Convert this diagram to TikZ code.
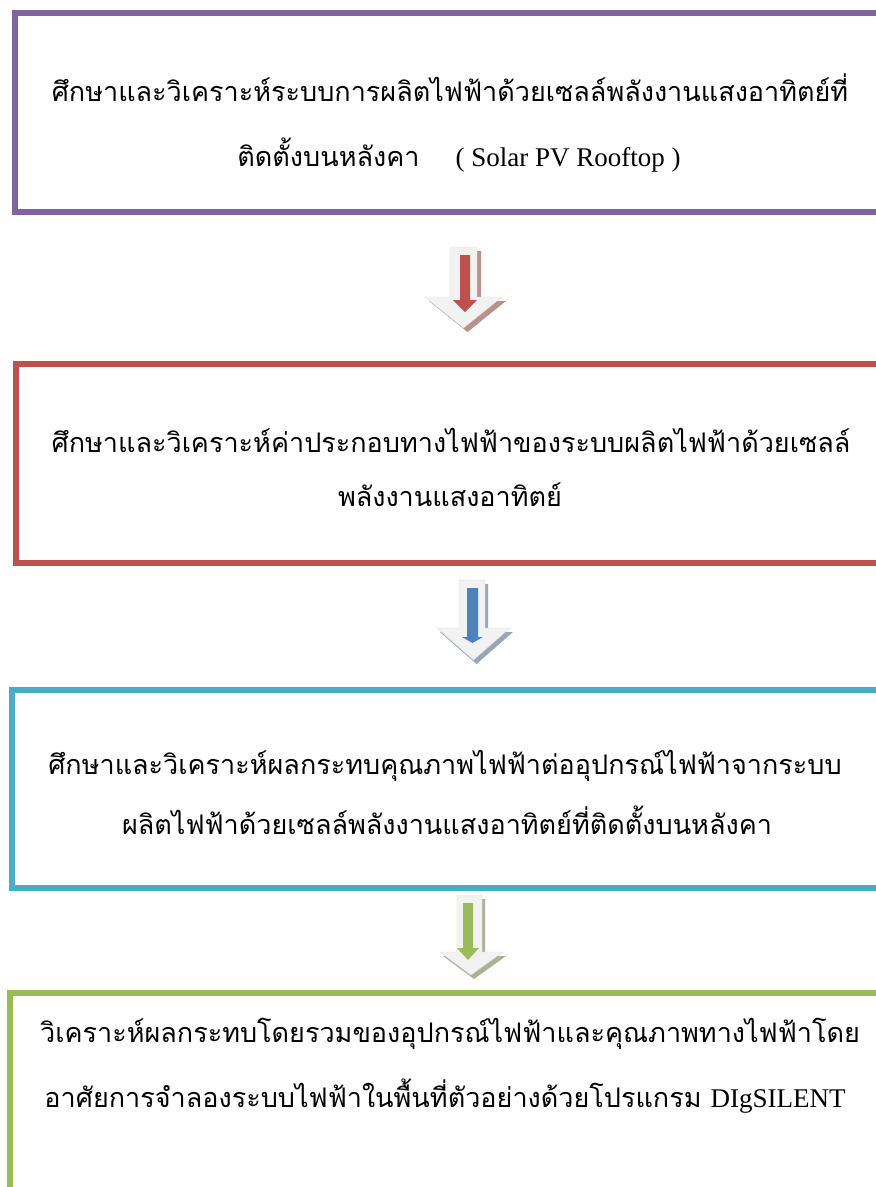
\documentclass[tikz,border=0pt]{standalone}
\usepackage{fontspec}
\newfontfamily\thai[Script=Thai]{Loma}
\newfontfamily\lat{Liberation Serif}
\definecolor{cpurple}{HTML}{8064A2}
\definecolor{cred}{HTML}{C0504D}
\definecolor{cteal}{HTML}{4BACC6}
\definecolor{cgreen}{HTML}{9BBB59}
\definecolor{cblue}{HTML}{4F81BD}
\definecolor{agray}{HTML}{F2F2F2}
\definecolor{shred}{HTML}{B9918F}
\definecolor{shblue}{HTML}{9AA6B5}
\definecolor{shgreen}{HTML}{A9B393}
\tikzset{
  boxframe/.style={draw=#1, line width=6pt, fill=white},
  txt/.style={font=\thai\fontsize{27}{30}\selectfont, inner sep=0pt, anchor=center},
  outerarrow/.style={fill=agray, draw=agray!80!gray, line width=0.4pt},
}
\begin{document}
\begin{tikzpicture}[x=1pt,y=-1pt]
\useasboundingbox (0,0) rectangle (876,1187);
\clip (0,0) rectangle (876,1187);
\fill[white] (0,0) rectangle (876,1187);
% boxes
\node[boxframe=cpurple, minimum width=880pt, minimum height=199pt, inner sep=0pt] (b1) at (455,112) {};
\node[boxframe=cred, minimum width=880pt, minimum height=199pt, inner sep=0pt] (b2) at (455.5,463) {};
\node[boxframe=cteal, minimum width=880pt, minimum height=198.5pt, inner sep=0pt] (b3) at (451.5,788.75) {};
\node[boxframe=cgreen, minimum width=880pt, minimum height=260pt, inner sep=0pt] (b4) at (449.5,1123) {};
% texts
\node[txt] (t1a) at (450,88) {ศึกษาและวิเคราะห์ระบบการผลิตไฟฟ้าด้วยเซลล์พลังงานแสงอาทิตย์ที่};
\node[txt] (t1b) at (459,155) {ติดตั้งบนหลังคา\quad\ {\lat( Solar PV Rooftop )}};
\node[txt] (t2a) at (451,440) {ศึกษาและวิเคราะห์ค่าประกอบทางไฟฟ้าของระบบผลิตไฟฟ้าด้วยเซลล์};
\node[txt] (t2b) at (450,495) {พลังงานแสงอาทิตย์};
\node[txt] (t3a) at (445,766) {ศึกษาและวิเคราะห์ผลกระทบคุณภาพไฟฟ้าต่ออุปกรณ์ไฟฟ้าจากระบบ};
\node[txt] (t3b) at (447,820) {ผลิตไฟฟ้าด้วยเซลล์พลังงานแสงอาทิตย์ที่ติดตั้งบนหลังคา};
\node[txt] (t4a) at (450,1034) {วิเคราะห์ผลกระทบโดยรวมของอุปกรณ์ไฟฟ้าและคุณภาพทางไฟฟ้าโดย};
\node[txt] (t4b) at (445,1096) {อาศัยการจำลองระบบไฟฟ้าในพื้นที่ตัวอย่างด้วยโปรแกรม {\lat DIgSILENT}};
% arrow 1
\fill[shred] (453,251) -- (481,251) -- (481,301) -- (506,301) -- (467.5,332) -- (429,301) -- (453,301) -- cycle;
\path[outerarrow] (450,247) -- (477,247) -- (477,297) -- (502,297) -- (463.5,328) -- (425,297) -- (450,297) -- cycle;
\fill[cred] (460,255) -- (470,255) -- (470,300) -- (477,300) -- (465,312) -- (453,300) -- (460,300) -- cycle;
% arrow 2
\fill[shblue] (462,584) -- (488,584) -- (488,632) -- (513,632) -- (476.5,664) -- (440,632) -- (462,632) -- cycle;
\path[outerarrow] (459,580) -- (485,580) -- (485,628) -- (510,628) -- (473.5,660) -- (437,628) -- (459,628) -- cycle;
\fill[cblue] (467,588) -- (478,588) -- (478,637) -- (483,637) -- (472.5,643) -- (462,637) -- (467,637) -- cycle;
% arrow 3
\fill[shgreen] (460,899) -- (485,899) -- (485,956) -- (506,956) -- (474,979) -- (443,956) -- (460,956) -- cycle;
\path[outerarrow] (457,895) -- (482,895) -- (482,952) -- (503,952) -- (471,975) -- (440,952) -- (457,952) -- cycle;
\fill[cgreen] (463,903) -- (473,903) -- (473,948) -- (479,948) -- (468,960) -- (457,948) -- (463,948) -- cycle;
\end{tikzpicture}
\end{document}
